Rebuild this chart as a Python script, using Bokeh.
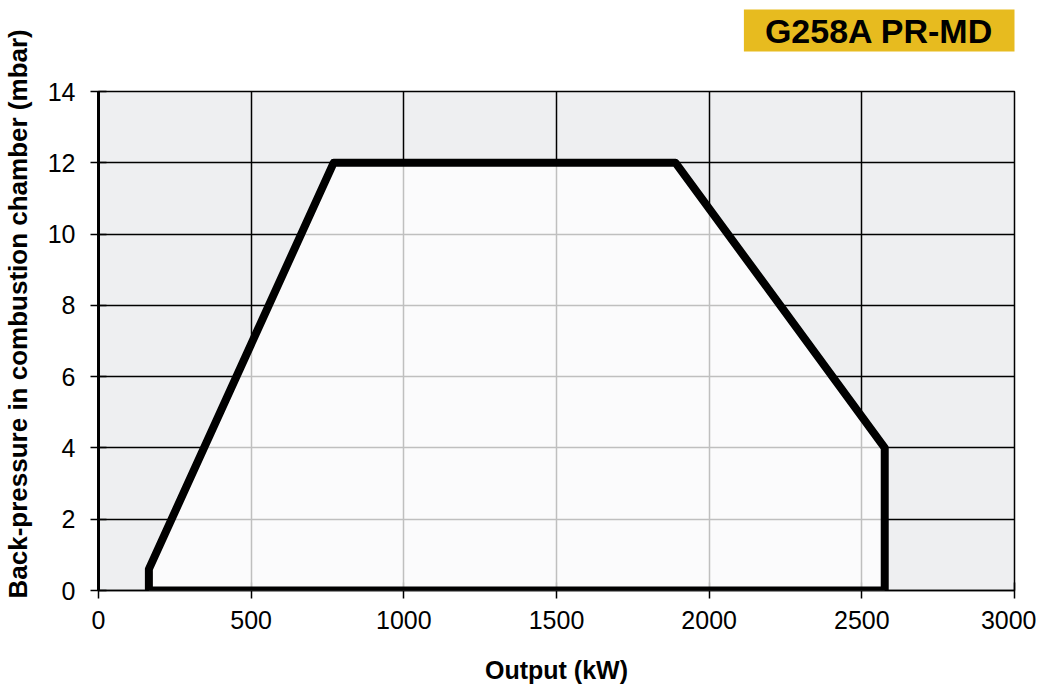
from bokeh.plotting import figure
from bokeh.models import Range1d, FixedTicker, PolyAnnotation, Title
from bokeh.embed import file_html
from bokeh.resources import INLINE

# operating field of the burner (output kW vs back-pressure mbar)
output_kw = [165, 165, 770, 1890, 2575, 2575]
pressure_mbar = [0, 0.6, 12, 12, 4, 0]

x_ticks = [0, 500, 1000, 1500, 2000, 2500, 3000]
y_ticks = [0, 2, 4, 6, 8, 10, 12, 14]

model_name = "G258A PR-MD"
x_title = "Output (kW)"
y_title = "Back-pressure in combustion chamber (mbar)"

FONT = "Liberation Sans"

p = figure(width=1036, height=690, output_backend="svg", toolbar_location=None,
           title_location=None,
           x_range=Range1d(0, 3000), y_range=Range1d(0, 14),
           min_border_left=98, min_border_right=22, min_border_top=91, min_border_bottom=100)

p.background_fill_color = "#EEEFF1"
p.border_fill_color = "white"
p.outline_line_color = "black"
p.outline_line_width = 1.5

# spacer between frame and the model tag, pushes the gold box up
spacer = Title(text=" ", text_font_size="1px", standoff=26)
p.add_layout(spacer, "above")

# model tag in the gold box, top right
tag = Title(text=model_name, align="right", vertical_align="top", standoff=18,
            text_font=FONT, text_font_size="34px", text_font_style="bold", text_color="black",
            background_fill_color="#E7BB1F", padding=dict(left=21, right=21, top=2, bottom=2))
p.add_layout(tag, "above")

# y label as a side title, so it can sit a little above centre like the original
ylab = Title(text=y_title, align="left", vertical_align="bottom", offset=-8, standoff=10,
             padding=dict(left=0, right=0, top=0, bottom=7),
             text_font=FONT, text_font_size="26px", text_font_style="bold", text_color="black")
p.add_layout(ylab, "left")

for g in (p.xgrid, p.ygrid):
    g.grid_line_color = "black"
    g.grid_line_width = 1.5
p.xgrid.ticker = FixedTicker(ticks=x_ticks)
p.ygrid.ticker = FixedTicker(ticks=y_ticks)

p.xaxis.ticker = FixedTicker(ticks=x_ticks)
p.yaxis.ticker = FixedTicker(ticks=y_ticks)

for ax in (p.xaxis[0], p.yaxis[0]):
    ax.axis_line_color = "black"
    ax.major_tick_line_color = "black"
    ax.major_tick_line_width = 1.5
    ax.major_tick_in = 8
    ax.major_tick_out = 8
    ax.minor_tick_line_color = None
    ax.major_label_text_font = FONT
    ax.major_label_text_font_size = "25px"
    ax.major_label_text_color = "black"
    ax.axis_label_text_font = FONT
    ax.axis_label_text_font_size = "25px"
    ax.axis_label_text_font_style = "bold"
    ax.axis_label_text_color = "black"

p.xaxis.axis_label = x_title
p.xaxis.axis_line_width = 1.5
p.yaxis.axis_line_width = 3
p.xaxis.major_label_standoff = 12
p.yaxis.major_label_standoff = 15
p.xaxis.axis_label_standoff = 24

# working field: light fill lets the grid show through as grey
field = PolyAnnotation(xs=output_kw, ys=pressure_mbar,
                       fill_color="white", fill_alpha=0.75,
                       line_color="black", line_alpha=1.0, line_width=8, line_join="round")
p.add_layout(field)

open("out.html", "w").write(file_html(p, INLINE))
